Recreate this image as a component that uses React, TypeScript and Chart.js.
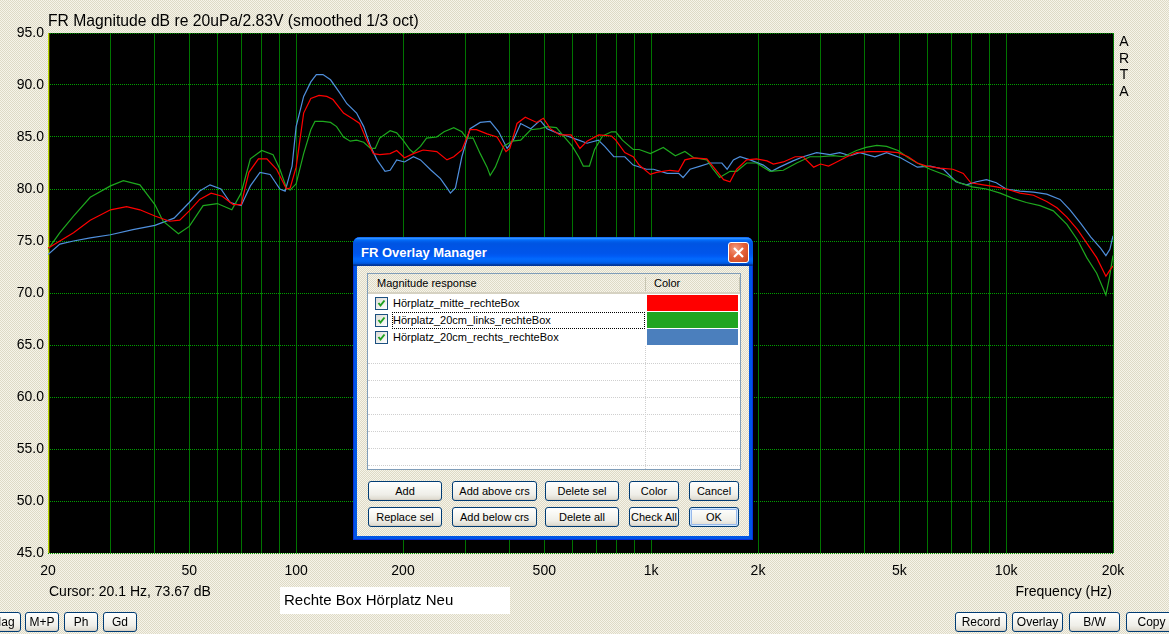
import React, { useEffect, useRef } from 'react';
import { Chart, registerables } from 'chart.js';

Chart.register(...registerables);

// ---------- axes ----------
const freqMin = 20;
const freqMax = 20000;
const dbMin = 45;
const dbMax = 95;
const dbStep = 5;
const gridFreqs = [20, 30, 40, 50, 60, 70, 80, 90, 100, 200, 300, 400, 500, 600, 700, 800, 900, 1000, 2000, 3000, 4000, 5000, 6000, 7000, 8000, 9000, 10000, 20000];
const labeledFreqs = [20, 50, 100, 200, 500, 1000, 2000, 5000, 10000, 20000];
const cursorFreq = 20.1;

// ---------- series: Hörplatz_mitte_rechteBox (red) ----------
const redFreq = [20, 21.6, 23.6, 26.3, 30, 33.3, 36.3, 40, 44, 47, 50, 53.5, 57.6, 61.9, 66.5, 70, 73.6, 78.3, 82.7, 88.1, 93.9, 96.2, 100, 105, 110, 116, 122, 127, 136, 145, 151, 158, 165, 172, 184, 192, 202, 214, 228, 249, 266, 278, 293, 309, 322, 345, 368, 390, 400, 419, 442, 476, 497, 520, 553, 595, 630, 660, 712, 773, 795, 843, 890, 925, 995, 1035, 1130, 1195, 1245, 1318, 1435, 1515, 1600, 1668, 1742, 1858, 1980, 2120, 2210, 2357, 2545, 2680, 2870, 3000, 3160, 3290, 3560, 3790, 4110, 4607, 4960, 5300, 5620, 5970, 6510, 7080, 7574, 7950, 8622, 9380, 10000, 10940, 11940, 13010, 13900, 14830, 15890, 16870, 17990, 19100, 19600, 20000];
const redDb = [74.3, 75.0, 75.8, 77.0, 78.0, 78.3, 78.0, 77.4, 76.9, 77.0, 77.9, 79.0, 79.6, 79.3, 78.5, 78.5, 81.6, 82.9, 82.9, 81.9, 80.0, 80.1, 82.1, 87.3, 88.7, 89.0, 88.9, 88.6, 87.3, 86.7, 86.3, 84.7, 83.4, 83.3, 83.4, 83.7, 83.0, 83.4, 83.75, 83.6, 82.8, 83.1, 83.75, 85.7, 85.7, 85.3, 85.0, 83.6, 83.9, 86.3, 86.9, 86.4, 86.8, 85.8, 85.2, 85.2, 83.9, 84.6, 85.2, 85.1, 84.7, 83.5, 83.1, 82.3, 81.4, 81.6, 81.8, 81.7, 82.8, 83.0, 82.9, 81.9, 80.9, 80.7, 81.9, 82.8, 82.9, 82.7, 82.4, 82.6, 83.1, 83.1, 82.1, 82.4, 82.2, 82.5, 83.1, 83.5, 83.6, 83.6, 83.5, 83.1, 82.5, 82.2, 82.0, 81.9, 81.5, 80.6, 80.4, 80.2, 80.0, 79.6, 79.4, 78.8, 78.2, 77.3, 76.1, 74.8, 73.4, 71.6, 72.2, 72.6];

// ---------- series: Hörplatz_20cm_links_rechteBox (green) ----------
const greenFreq = [20, 21.6, 23.6, 26.3, 30, 32.6, 36.3, 40, 42.2, 46.6, 50, 54.7, 60, 65.9, 70, 74.3, 80, 86.1, 90, 93.9, 96.2, 100, 105, 110, 113, 119, 125, 130, 136, 142, 148, 155, 162, 167, 172, 184, 192, 200, 209, 214, 224, 233, 249, 261, 278, 293, 302, 315, 330, 345, 352, 364, 384, 406, 429, 458, 487, 509, 541, 566, 600, 625, 644, 670, 693, 730, 773, 795, 830, 890, 925, 995, 1082, 1170, 1245, 1318, 1435, 1495, 1560, 1668, 1742, 1858, 1980, 2162, 2357, 2570, 2802, 3000, 3260, 3480, 3790, 4030, 4320, 4607, 4960, 5300, 5620, 6110, 6790, 7370, 8030, 8800, 9620, 10460, 11400, 12460, 13580, 14830, 15890, 16870, 17990, 19100, 19500, 20000];
const greenDb = [74.2, 75.8, 77.4, 79.2, 80.3, 80.8, 80.4, 78.5, 76.9, 75.7, 76.4, 78.4, 78.6, 78.0, 79.6, 82.9, 83.7, 83.3, 81.9, 80.1, 79.9, 80.5, 83.4, 85.7, 86.5, 86.5, 86.4, 86.0, 85.0, 84.6, 84.7, 84.5, 83.9, 83.9, 84.9, 85.6, 85.4, 84.7, 83.8, 83.5, 84.1, 84.9, 85.0, 85.5, 85.9, 85.5, 84.9, 84.9, 83.4, 82.1, 81.3, 82.1, 84.1, 84.6, 84.7, 85.7, 85.8, 86.0, 85.9, 85.1, 84.1, 83.1, 82.2, 82.2, 83.8, 85.1, 85.5, 85.5, 84.7, 83.8, 83.8, 83.4, 84.0, 83.2, 83.6, 83.0, 82.8, 81.9, 81.1, 81.7, 81.7, 82.5, 82.5, 81.7, 81.8, 82.5, 83.1, 83.1, 83.2, 83.1, 83.7, 84.0, 84.2, 84.1, 83.7, 83.0, 82.5, 81.9, 81.3, 80.6, 80.2, 80.0, 79.6, 79.1, 78.7, 78.4, 77.9, 76.6, 75.1, 73.4, 71.9, 69.8, 71.3, 73.6];

// ---------- series: Hörplatz_20cm_rechts_rechteBox (blue) ----------
const blueFreq = [20, 21.6, 23.6, 26.3, 30, 34.7, 40, 45.3, 50, 53.5, 57.2, 61.4, 65.2, 70, 74.3, 79.1, 84.5, 90, 93.1, 97.4, 100, 105, 110, 114, 119, 125, 133, 139, 148, 155, 162, 169, 178, 184, 192, 202, 214, 224, 240, 255, 266, 272, 281, 293, 309, 330, 352, 372, 393, 409, 429, 458, 487, 509, 543, 580, 625, 660, 710, 740, 785, 843, 890, 970, 1015, 1110, 1195, 1230, 1287, 1375, 1466, 1582, 1637, 1705, 1780, 1900, 2070, 2185, 2300, 2510, 2680, 2925, 3190, 3400, 3640, 3870, 4270, 4607, 5040, 5620, 6110, 6660, 7220, 7730, 8250, 8800, 9380, 10000, 10940, 11940, 13010, 14190, 15130, 16220, 17300, 18470, 19100, 19600, 20000];
const blueDb = [73.7, 74.7, 75.0, 75.3, 75.6, 76.1, 76.5, 77.2, 78.7, 79.8, 80.4, 80.0, 78.7, 78.4, 80.3, 81.6, 81.4, 80.0, 79.8, 82.2, 86.0, 88.9, 90.3, 91.0, 91.0, 90.5, 89.2, 88.2, 87.3, 86.0, 84.1, 82.8, 81.7, 81.8, 82.8, 82.6, 83.1, 82.8, 81.8, 81.0, 80.1, 79.6, 80.1, 83.1, 85.8, 86.4, 86.5, 85.5, 83.9, 84.7, 86.3, 85.8, 86.6, 85.8, 85.4, 85.1, 84.7, 84.4, 84.7, 84.1, 83.1, 83.1, 82.3, 81.9, 81.9, 81.5, 81.5, 81.1, 81.9, 82.2, 82.5, 82.5, 81.9, 82.8, 83.1, 82.8, 82.3, 81.7, 82.1, 82.7, 83.1, 83.5, 83.3, 83.5, 83.2, 83.5, 83.1, 83.5, 83.0, 82.1, 82.2, 81.9, 80.7, 80.4, 80.7, 80.9, 80.6, 80.0, 79.8, 79.7, 79.5, 79.0, 78.0, 76.7, 75.4, 74.3, 73.6, 74.2, 75.5];

const seriesNames = ['Hörplatz_mitte_rechteBox', 'Hörplatz_20cm_links_rechteBox', 'Hörplatz_20cm_rechts_rechteBox'];
const seriesColors = ['#ff0000', '#1ea81e', '#4f8fdc'];
const swatchColors = ['#ff0000', '#21a521', '#4b7fbd'];

const FONT = '"Liberation Sans", Arial, sans-serif';
const PATTERN: React.CSSProperties = {
  backgroundColor: '#ebe8d7',
  backgroundImage: 'repeating-conic-gradient(#f6f4ea 0% 25%, #dedac6 0% 50%)',
  backgroundSize: '2px 2px',
};

const toPoints = (f: number[], d: number[]) =>
  f.slice(0, Math.min(f.length, d.length)).map((x, i) => ({ x, y: d[i] }));

const fmtFreq = (v: number) => (v >= 1000 ? `${v / 1000}k` : `${v}`);

const plotBg = {
  id: 'plotBg',
  beforeDraw(chart: any) {
    const { ctx, chartArea } = chart;
    if (!chartArea) return;
    ctx.save();
    ctx.fillStyle = '#000000';
    ctx.fillRect(chartArea.left, chartArea.top, chartArea.right - chartArea.left, chartArea.bottom - chartArea.top);
    ctx.restore();
  },
};

const Txt = ({ x, y, size = 14, children, right, bold, color = '#000', w }: any) => (
  <div
    style={{
      position: 'absolute',
      left: right ? undefined : x,
      right: right ? 1169 - x : undefined,
      top: y,
      width: w,
      font: `${bold ? 'bold ' : ''}${size}px ${FONT}`,
      lineHeight: `${Math.round(size * 1.15)}px`,
      color,
      whiteSpace: 'nowrap',
    }}
  >
    {children}
  </div>
);

const XPButton = ({ x, y, w, h, label, def, size = 11 }: any) => (
  <div
    style={{
      position: 'absolute',
      left: x,
      top: y,
      width: w,
      height: h,
      boxSizing: 'border-box',
      border: '1px solid #003c74',
      borderRadius: 3,
      background: 'linear-gradient(#ffffff 0%, #f7f7f3 35%, #efeee8 70%, #dcd8cc 100%)',
      boxShadow: def ? 'inset 0 0 0 1px #cee7ff, inset 0 0 0 2px #98b8ea' : 'inset 0 -1px 0 #d6d0c5',
      font: `${size}px ${FONT}`,
      color: '#000',
      display: 'flex',
      alignItems: 'center',
      justifyContent: 'center',
      whiteSpace: 'nowrap',
      overflow: 'hidden',
    }}
  >
    {label}
  </div>
);

const CheckBox = ({ x, y }: any) => (
  <div
    style={{
      position: 'absolute',
      left: x,
      top: y,
      width: 13,
      height: 13,
      boxSizing: 'border-box',
      border: '1px solid #1c5180',
      background: 'linear-gradient(135deg, #dcdcd7 0%, #ffffff 100%)',
    }}
  >
    <svg width="11" height="11" style={{ position: 'absolute', left: 0, top: 0 }}>
      <path d="M2.5 5 L4.5 7.5 L8.5 2.5" stroke="#21a121" strokeWidth="2" fill="none" />
    </svg>
  </div>
);

const Dialog = () => {
  const L = 353, T = 237, W = 400, H = 303;
  const rowTop = 295, rowH = 17;
  const emptyLines = [363, 380, 397, 414, 431, 448, 465];
  return (
    <>
      <div
        style={{
          position: 'absolute', left: L, top: T, width: W, height: H,
          background: '#0055e5', borderRadius: '7px 7px 0 0',
          boxShadow: 'inset 0 0 0 1px #0831d9',
        }}
      />
      <div
        style={{
          position: 'absolute', left: L, top: T, width: W, height: 29,
          borderRadius: '7px 7px 0 0',
          background: 'linear-gradient(to bottom, #0058ee 0%, #3593ff 4%, #288eff 6%, #127dff 8%, #036ffc 10%, #0262ee 14%, #0057e5 20%, #0054e3 24%, #0055eb 56%, #005bf5 66%, #026afe 76%, #0062ef 86%, #0052d6 92%, #0040ab 94%, #003092 100%)',
        }}
      />
      <Txt x={361} y={245} size={13} bold color="#ffffff">FR Overlay Manager</Txt>
      <div
        style={{
          position: 'absolute', left: 728, top: 242, width: 21, height: 21, boxSizing: 'border-box',
          border: '1px solid #ffffff', borderRadius: 3,
          background: 'radial-gradient(circle at 35% 30%, #f3a084 0%, #e5623b 45%, #c8401a 100%)',
        }}
      >
        <svg width="19" height="19" style={{ position: 'absolute', left: 0, top: 0 }}>
          <path d="M5 5 L14 14 M14 5 L5 14" stroke="#ffffff" strokeWidth="2.2" />
        </svg>
      </div>
      <div style={{ position: 'absolute', left: L + 4, top: T + 29, width: W - 8, height: H - 33, ...PATTERN }} />
      <div
        style={{
          position: 'absolute', left: 367, top: 273, width: 374, height: 197, boxSizing: 'border-box',
          border: '1px solid #7f9db9', background: '#ffffff',
        }}
      />
      <div
        style={{
          position: 'absolute', left: 368, top: 274, width: 372, height: 20, boxSizing: 'border-box',
          ...PATTERN, borderBottom: '2px solid #d6d2c2',
        }}
      />
      <div style={{ position: 'absolute', left: 645, top: 277, width: 1, height: 14, background: '#c7c5b2' }} />
      <div style={{ position: 'absolute', left: 739, top: 277, width: 1, height: 14, background: '#c7c5b2' }} />
      <Txt x={377} y={277} size={11}>Magnitude response</Txt>
      <Txt x={654} y={277} size={11}>Color</Txt>
      {emptyLines.map((yy) => (
        <div key={yy} style={{ position: 'absolute', left: 368, top: yy, width: 372, height: 0, borderTop: '1px dotted #cfcfcf' }} />
      ))}
      <div style={{ position: 'absolute', left: 645, top: 346, width: 0, height: 123, borderLeft: '1px dotted #cfcfcf' }} />
      {seriesNames.map((name, i) => (
        <React.Fragment key={name}>
          <CheckBox x={375} y={rowTop + i * rowH + 2} />
          <Txt x={393} y={rowTop + i * rowH + 2} size={11}>{name}</Txt>
          <div
            style={{
              position: 'absolute', left: 647, top: rowTop + i * rowH, width: 91, height: 16,
              background: swatchColors[i],
            }}
          />
        </React.Fragment>
      ))}
      <div
        style={{
          position: 'absolute', left: 392, top: rowTop + rowH, width: 253, height: 17, boxSizing: 'border-box',
          border: '1px dotted #000000',
        }}
      />
      <XPButton x={368} y={481} w={74} h={20} label="Add" />
      <XPButton x={452} y={481} w={85} h={20} label="Add above crs" />
      <XPButton x={545} y={481} w={74} h={20} label="Delete sel" />
      <XPButton x={629} y={481} w={50} h={20} label="Color" />
      <XPButton x={689} y={481} w={50} h={20} label="Cancel" />
      <XPButton x={368} y={507} w={74} h={20} label="Replace sel" />
      <XPButton x={452} y={507} w={85} h={20} label="Add below crs" />
      <XPButton x={545} y={507} w={74} h={20} label="Delete all" />
      <XPButton x={629} y={507} w={50} h={20} label="Check All" />
      <XPButton x={689} y={507} w={50} h={20} label="OK" def />
    </>
  );
};

export default function App() {
  const canvasRef = useRef<HTMLCanvasElement | null>(null);

  useEffect(() => {
    if (!canvasRef.current) return;
    const datasets: any[] = [redFreq, greenFreq, blueFreq].map((f, i) => ({
      label: seriesNames[i],
      data: toPoints(f, [redDb, greenDb, blueDb][i]),
      borderColor: seriesColors[i],
      borderWidth: 1.2,
      pointRadius: 0,
      tension: 0,
      fill: false,
    }));
    datasets.push({
      label: 'Cursor',
      data: [{ x: cursorFreq, y: dbMin }, { x: cursorFreq, y: dbMax }],
      borderColor: '#ffff00',
      borderWidth: 1,
      pointRadius: 0,
      fill: false,
    });

    const chart = new Chart(canvasRef.current, {
      type: 'line',
      data: { datasets },
      plugins: [plotBg],
      options: {
        animation: false,
        responsive: false,
        devicePixelRatio: 1,
        parsing: false as any,
        normalized: true,
        layout: { padding: { top: 33, right: 56, left: 0, bottom: 0 } },
        plugins: { legend: { display: false }, tooltip: { enabled: false }, title: { display: false } },
        scales: {
          x: {
            type: 'logarithmic',
            min: freqMin,
            max: freqMax,
            afterBuildTicks: (s: any) => {
              s.ticks = gridFreqs.map((v) => ({ value: v }));
            },
            afterFit: (s: any) => {
              s.height = 81;
            },
            ticks: {
              autoSkip: false,
              maxRotation: 0,
              minRotation: 0,
              padding: 10,
              color: '#000000',
              font: { family: FONT, size: 14 },
              callback: (v: any) => (labeledFreqs.includes(Number(v)) ? fmtFreq(Number(v)) : ''),
            },
            grid: { color: '#007400', lineWidth: 1, drawTicks: false },
            border: { display: false },
          },
          y: {
            type: 'linear',
            min: dbMin,
            max: dbMax,
            afterFit: (s: any) => {
              s.width = 48;
            },
            ticks: {
              stepSize: dbStep,
              padding: 4,
              color: '#000000',
              font: { family: FONT, size: 14 },
              callback: (v: any) => Number(v).toFixed(1),
            },
            grid: { color: '#00a000', lineWidth: 1, drawTicks: false },
            border: { display: false, dash: [1, 1] },
          },
        },
      },
    });
    return () => chart.destroy();
  }, []);

  return (
    <div style={{ position: 'fixed', left: 0, top: 0, width: 1169, height: 634, overflow: 'hidden', ...PATTERN }}>
      <canvas ref={canvasRef} width={1169} height={634} style={{ position: 'absolute', left: 0, top: 0, width: 1169, height: 634 }} />
      <Txt x={48} y={12} size={15.7}>FR Magnitude dB re 20uPa/2.83V (smoothed 1/3 oct)</Txt>
      {['A', 'R', 'T', 'A'].map((c, i) => (
        <Txt key={i} x={1118} y={33 + i * 16.5} size={14} w={12}>
          <div style={{ textAlign: 'center' }}>{c}</div>
        </Txt>
      ))}
      <Txt x={49} y={583} size={14}>Cursor: 20.1 Hz, 73.67 dB</Txt>
      <Txt x={1112} y={583} size={14} right>Frequency (Hz)</Txt>
      <div style={{ position: 'absolute', left: 280, top: 587, width: 230, height: 27, background: '#ffffff' }} />
      <Txt x={284} y={591} size={15}>Rechte Box Hörplatz Neu</Txt>
      <XPButton x={-15} y={612} w={36} h={20} label="Mag" size={12} />
      <XPButton x={25} y={612} w={34} h={20} label="M+P" size={12} />
      <XPButton x={64} y={612} w={34} h={20} label="Ph" size={12} />
      <XPButton x={103} y={612} w={34} h={20} label="Gd" size={12} />
      <XPButton x={955} y={612} w={52} h={20} label="Record" size={12} />
      <XPButton x={1012} y={612} w={51} h={20} label="Overlay" size={12} />
      <XPButton x={1069} y={612} w={51} h={20} label="B/W" size={12} />
      <XPButton x={1126} y={612} w={51} h={20} label="Copy" size={12} />
      <Dialog />
    </div>
  );
}
